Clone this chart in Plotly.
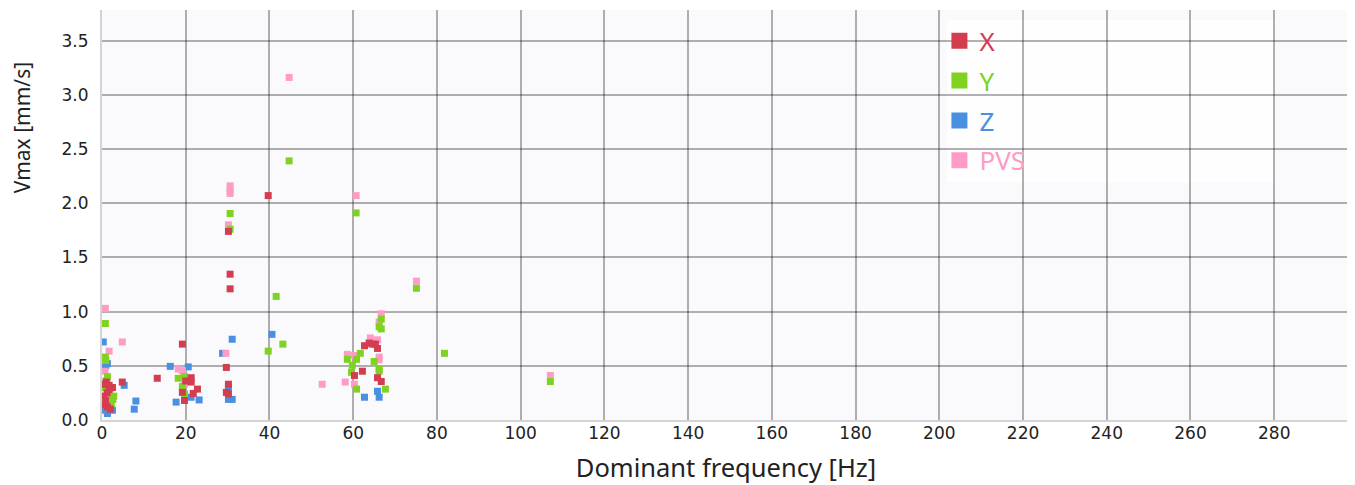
import plotly.graph_objects as go

# --- Data (frequency [Hz], Vmax [mm/s]) ---
x_freq = [0.5, 1.0, 1.7, 1.7, 1.2, 0.4, 0.9, 0.5, 1.3, 2.0, 2.5, 4.85, 13.2,
          19.2, 21.3, 21.3, 22.8, 19.2, 21.8, 19.7, 20.0,
          29.7, 30.2, 29.7, 30.2, 30.2, 30.6, 30.6, 39.7,
          62.7, 63.8, 65.3, 65.8, 60.3, 62.2, 65.8, 66.7, 64.5]
x_vmax = [0.33, 0.35, 0.32, 0.28, 0.25, 0.22, 0.18, 0.14, 0.12, 0.10, 0.30, 0.35, 0.385,
          0.70, 0.39, 0.35, 0.285, 0.255, 0.245, 0.18, 0.36,
          0.485, 0.33, 0.255, 0.24, 1.74, 1.345, 1.21, 2.07,
          0.685, 0.71, 0.70, 0.66, 0.41, 0.45, 0.39, 0.355, 0.70]

y_freq = [0.8, 0.8, 0.9, 1.3, 1.0, 2.6, 2.2, 1.5, 0.6, 2.8,
          18.2, 19.7, 19.2, 19.7,
          30.6, 30.6, 39.7, 41.6, 43.2, 44.7,
          60.7, 66.7, 66.2, 66.7, 61.7, 58.6, 60.8, 65.0, 66.2, 66.2, 59.8, 59.6, 60.8, 67.7,
          75.1, 81.8, 107.1]
y_vmax = [0.89, 0.58, 0.55, 0.40, 0.36, 0.19, 0.14, 0.12, 0.30, 0.22,
          0.385, 0.40, 0.31, 0.24,
          1.905, 1.76, 0.635, 1.14, 0.70, 2.39,
          1.91, 0.93, 0.86, 0.84, 0.615, 0.56, 0.56, 0.54, 0.47, 0.45, 0.505, 0.44, 0.285, 0.285,
          1.215, 0.615, 0.355]

z_freq = [0.3, 1.3, 0.6, 0.9, 0.8, 2.5, 1.3, 0.4, 2.0, 5.3, 8.1, 7.7,
          16.3, 20.6, 21.3, 23.2, 17.7,
          31.1, 28.8, 30.2, 30.2, 31.1, 40.6,
          62.7, 65.8, 66.2]
z_vmax = [0.72, 0.52, 0.48, 0.50, 0.09, 0.09, 0.06, 0.15, 0.12, 0.32, 0.175, 0.10,
          0.495, 0.49, 0.21, 0.185, 0.165,
          0.745, 0.615, 0.30, 0.19, 0.19, 0.79,
          0.21, 0.265, 0.21]

pvs_freq = [0.8, 1.7, 4.85, 0.7, 1.2, 1.6, 0.9, 2.0, 0.5,
            18.2, 19.2, 19.7,
            29.6, 30.2, 30.6, 30.6, 30.6, 44.7, 52.6,
            58.6, 60.3, 58.1, 60.3, 60.7, 66.7, 66.2, 64.1, 65.8, 66.2, 66.2,
            75.1, 107.1]
pvs_vmax = [1.03, 0.635, 0.72, 0.45, 0.35, 0.24, 0.20, 0.29, 0.56,
            0.47, 0.455, 0.33,
            0.615, 1.80, 2.16, 2.12, 2.09, 3.16, 0.33,
            0.605, 0.595, 0.35, 0.33, 2.07, 0.98, 0.905, 0.757, 0.74, 0.58, 0.555,
            1.28, 0.41]

series = {
    "X": (x_freq, x_vmax, "#d33d4f"),
    "Y": (y_freq, y_vmax, "#7ed321"),
    "Z": (z_freq, z_vmax, "#4a90e2"),
    "PVS": (pvs_freq, pvs_vmax, "#ff9cc5"),
}
legend_order = ["X", "Y", "Z", "PVS"]
draw_order = ["Z", "PVS", "Y", "X"]

fig = go.Figure()

# actual points (drawn in stacking order seen in the chart)
for name in draw_order:
    fx, fy, col = series[name]
    fig.add_trace(go.Scatter(
        x=fx, y=fy, mode="markers", name=name, showlegend=False,
        marker=dict(symbol="square", size=7, color=col, line=dict(width=0)),
    ))

# legend entries
for i, name in enumerate(legend_order):
    col = series[name][2]
    fig.add_trace(go.Scatter(
        x=[None], y=[None], mode="markers",
        name=f'<span style="color:{col}">{name}</span>',
        legendgroup=name, legendrank=i + 1,
        marker=dict(symbol="square", size=17, color=col, line=dict(width=0)),
    ))

grid = "rgba(0,0,0,0.3)"

# page has an 8px body margin, so the figure is sized/offset to compensate
fig.update_layout(
    width=1347, height=477,
    margin=dict(l=94, r=5, t=2, b=65),
    paper_bgcolor="white",
    plot_bgcolor="#fafafd",
    font=dict(family="DejaVu Sans", size=17, color="#222"),
    legend=dict(
        x=0.671, y=0.982, xanchor="left", yanchor="top",
        bgcolor="rgba(0,0,0,0)",
        font=dict(family="Noto Sans", size=26),
        tracegroupgap=3, traceorder="grouped",
    ),
    shapes=[dict(
        type="rect", xref="paper", yref="paper",
        x0=0.677, x1=0.94, y0=0.58, y1=0.976,
        fillcolor="white", opacity=0.7, line=dict(width=0), layer="between",
    )],
    annotations=[dict(
        text="Vmax [mm/s]", textangle=-90, showarrow=False,
        xref="paper", yref="paper", x=-0.064, y=0.712,
        xanchor="center", yanchor="middle",
        font=dict(family="Noto Sans", size=21, color="#222"),
    )],
)

fig.update_xaxes(
    range=[0, 298.1], dtick=20, tick0=0,
    showgrid=True, gridcolor=grid, gridwidth=2,
    showline=True, linecolor="#d4d4d4", linewidth=2,
    zeroline=False, ticklabelstandoff=-3,
    title=dict(text="Dominant frequency [Hz]",
               font=dict(family="Noto Sans", size=25.5, color="#222"), standoff=17),
)
fig.update_yaxes(
    range=[0, 3.782], dtick=0.5, tick0=0, tickformat=".1f",
    showgrid=True, gridcolor=grid, gridwidth=2,
    showline=True, linecolor="#d4d4d4", linewidth=2,
    zeroline=False, ticklabelstandoff=8,
)

fig.write_html("out.html")
